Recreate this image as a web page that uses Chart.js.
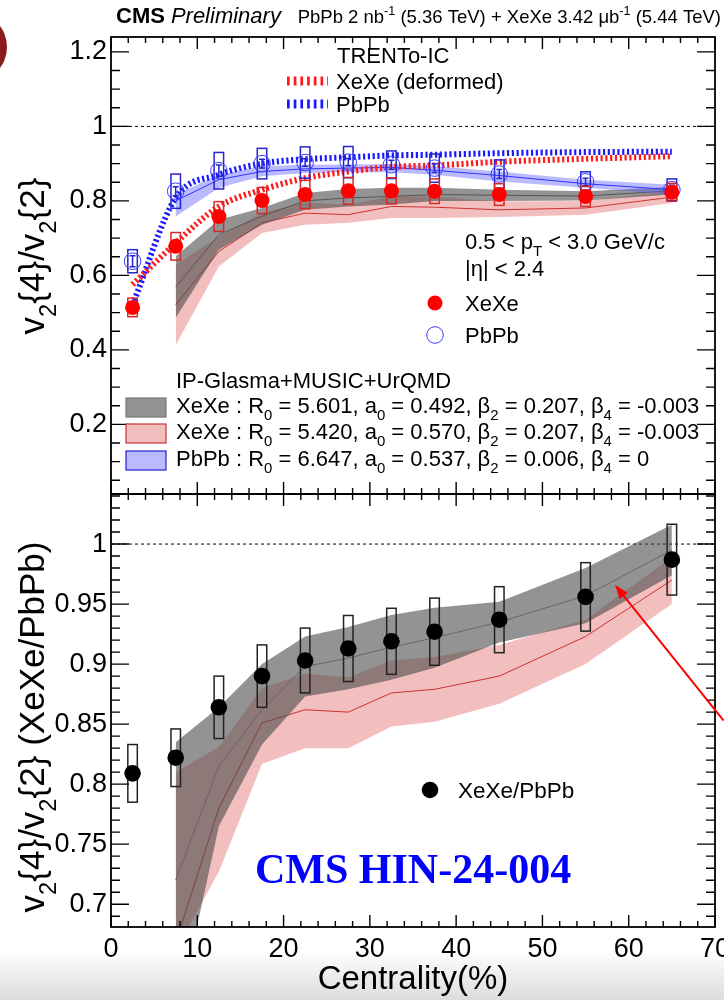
<!DOCTYPE html>
<html>
<head>
<meta charset="utf-8">
<script src="https://cdn.jsdelivr.net/npm/chart.js@4.4.1/dist/chart.umd.min.js"></script>
<style>
  html, body { margin: 0; padding: 0; }
  body { width: 724px; height: 1000px; position: relative; overflow: hidden;
         background: linear-gradient(to bottom, #fff 0px, #fff 950px, #dcdcdc 1000px); }
  canvas { position: absolute; left: 0; }
  #top { top: 0; }
  #bot { top: 490px; }
</style>
</head>
<body>
<canvas id="top" width="724" height="497"></canvas>
<canvas id="bot" width="724" height="510"></canvas>
<script>
// ---- data ----
const cent = [2.5, 7.5, 12.5, 17.5, 22.5, 27.5, 32.5, 37.5, 45, 55, 65];

// upper panel: v2{4}/v2{2}
const xexeV    = [0.514, 0.678, 0.758, 0.801, 0.817, 0.827, 0.827, 0.826, 0.817, 0.812, 0.823];
const xexeSys  = [0.025, 0.037, 0.040, 0.035, 0.038, 0.036, 0.035, 0.033, 0.029, 0.027, 0.024];
const pbpbV    = [0.638, 0.826, 0.881, 0.900, 0.903, 0.904, 0.897, 0.888, 0.872, 0.851, 0.830];
const pbpbSys  = [0.031, 0.046, 0.049, 0.041, 0.042, 0.042, 0.037, 0.038, 0.038, 0.027, 0.029];
const pbpbStat = [0.015, 0.012, 0.015, 0.012, 0.010, 0.010, 0.012, 0.012, 0.012, 0.010, 0.012];

// TRENTo-IC
const trentoXeXe = [0.575, 0.687, 0.785, 0.830, 0.861, 0.879, 0.891, 0.895, 0.905, 0.913, 0.920];
const trentoPbPb = [0.521, 0.808, 0.870, 0.900, 0.912, 0.917, 0.922, 0.924, 0.928, 0.931, 0.932];

// IP-Glasma+MUSIC+UrQMD bands
const modelCent = [7.5, 12.5, 17.5, 22.5, 27.5, 32.5, 37.5, 45, 55, 65];
const ipgXeA    = [0.569, 0.709, 0.759, 0.800, 0.808, 0.812, 0.817, 0.815, 0.813, 0.827];
const ipgXeAHi  = [0.651, 0.749, 0.781, 0.821, 0.832, 0.835, 0.835, 0.830, 0.826, 0.837];
const ipgXeALo  = [0.486, 0.669, 0.736, 0.776, 0.785, 0.790, 0.800, 0.800, 0.801, 0.817];
const ipgXeB    = [0.521, 0.664, 0.741, 0.767, 0.763, 0.785, 0.783, 0.776, 0.781, 0.810];
const ipgXeBHi  = [0.629, 0.704, 0.768, 0.795, 0.790, 0.812, 0.812, 0.798, 0.800, 0.826];
const ipgXeBLo  = [0.413, 0.624, 0.714, 0.736, 0.741, 0.754, 0.754, 0.757, 0.763, 0.794];
const ipgPb     = [0.800, 0.857, 0.879, 0.886, 0.888, 0.890, 0.882, 0.868, 0.846, 0.830];
const ipgPbHi   = [0.817, 0.870, 0.893, 0.897, 0.898, 0.899, 0.893, 0.879, 0.857, 0.843];
const ipgPbLo   = [0.758, 0.835, 0.866, 0.875, 0.877, 0.877, 0.870, 0.852, 0.835, 0.817];

// lower panel: XeXe/PbPb
const ratioV    = [0.809, 0.822, 0.864, 0.890, 0.903, 0.913, 0.919, 0.927, 0.937, 0.956, 0.987];
const ratioSys  = [0.024, 0.024, 0.026, 0.026, 0.027, 0.0275, 0.0275, 0.028, 0.0275, 0.0285, 0.0295];
const ratioStat = [0.005, 0.004, 0.004, 0.003, 0.003, 0.003, 0.003, 0.003, 0.003, 0.004, 0.005];
const rGray     = [0.720, 0.815, 0.862, 0.898, 0.905, 0.914, 0.922, 0.935, 0.957, 0.995];
const rGrayHi   = [0.835, 0.864, 0.900, 0.923, 0.931, 0.941, 0.947, 0.952, 0.980, 1.016];
const rGrayLo   = [0.600, 0.765, 0.833, 0.873, 0.879, 0.887, 0.897, 0.918, 0.934, 0.974];
const rPink     = [0.668, 0.780, 0.851, 0.862, 0.860, 0.876, 0.879, 0.890, 0.923, 0.970];
const rPinkHi   = [0.810, 0.831, 0.880, 0.892, 0.889, 0.903, 0.906, 0.916, 0.937, 0.989];
const rPinkLo   = [0.662, 0.727, 0.817, 0.830, 0.830, 0.848, 0.852, 0.867, 0.900, 0.950];

// axes
const xTicks = [0, 10, 20, 30, 40, 50, 60, 70];
const yTicksTop = [0.2, 0.4, 0.6, 0.8, 1, 1.2];
const yTicksBot = [0.7, 0.75, 0.8, 0.85, 0.9, 0.95, 1];

// legend text
const trentoHead = 'TRENTo-IC';
const trentoLabels = ['XeXe (deformed)', 'PbPb'];
const kinLabels = ['0.5 < p_{T} < 3.0 GeV/c', '|η| < 2.4'];
const dataLabels = ['XeXe', 'PbPb'];
const ipgHead = 'IP-Glasma+MUSIC+UrQMD';
const ipgLabels = [
  'XeXe : R_{0} = 5.601, a_{0} = 0.492, β_{2} = 0.207, β_{4} = -0.003',
  'XeXe : R_{0} = 5.420, a_{0} = 0.570, β_{2} = 0.207, β_{4} = -0.003',
  'PbPb : R_{0} = 6.647, a_{0} = 0.537, β_{2} = 0.006, β_{4} = 0'
];
const ratioLabel = 'XeXe/PbPb';
const tagText = 'CMS HIN-24-004';
const arrowFrom = { x: 71.0, y: 0.853 };
const arrowTo = { x: 58.4, y: 0.966 };

// ---- helpers ----
const FONT = "'Liberation Sans', Arial, sans-serif";
Chart.defaults.font.family = FONT;
Chart.defaults.color = '#000';

const GRAY = 'rgba(75,75,75,0.6)';
const PINK = 'rgba(220,70,70,0.35)';
const BLUE = 'rgba(90,90,255,0.42)';

function pts(xs, ys) { return xs.map((x, i) => ({ x: x, y: ys[i] })); }

function band(xs, hi, lo, color, ord) {
  return [
    { data: pts(xs, hi), borderColor: 'transparent', borderWidth: 0, pointRadius: 0, fill: '+1', backgroundColor: color, order: ord },
    { data: pts(xs, lo), borderColor: 'transparent', borderWidth: 0, pointRadius: 0, fill: false, order: ord }
  ];
}
function midLine(xs, ys, color, ord) {
  return { data: pts(xs, ys), borderColor: color, borderWidth: 1, pointRadius: 0, fill: false, order: ord };
}

// parse ROOT-like _{..} and ^{..}
function parse(s) {
  const out = []; const re = /([_^])\{([^}]*)\}/g; let last = 0, m;
  while ((m = re.exec(s))) {
    if (m.index > last) out.push([s.slice(last, m.index), '']);
    out.push([m[2], m[1] === '_' ? 'sub' : 'sup']);
    last = re.lastIndex;
  }
  if (last < s.length) out.push([s.slice(last), '']);
  return out;
}
function rich(ctx, s, x, y, size, align, style) {
  const parts = parse(s);
  const pre = style ? style + ' ' : '';
  const small = size * 0.68;
  const w = parts.map(([t, k]) => { ctx.font = pre + (k ? small : size) + 'px ' + FONT; return ctx.measureText(t).width; });
  const total = w.reduce((a, b) => a + b, 0);
  let cx = align === 'center' ? x - total / 2 : align === 'right' ? x - total : x;
  ctx.textAlign = 'left';
  ctx.textBaseline = 'alphabetic';
  parts.forEach(([t, k], i) => {
    ctx.font = pre + (k ? small : size) + 'px ' + FONT;
    const dy = k === 'sub' ? size * 0.33 : k === 'sup' ? -size * 0.42 : 0;
    ctx.fillText(t, cx, y + dy);
    cx += w[i];
  });
  return total;
}

function isMul(v, step) { const r = v / step; return Math.abs(r - Math.round(r)) < 1e-6; }

// keep the plot area exactly where the layout padding puts it
function fixY(s) { s.width = 111; s.paddingTop = 0; s.paddingBottom = 0; }
function fixX(s) { s.height = 73; s.paddingLeft = 0; s.paddingRight = 0; }

const framePlugin = {
  id: 'frame',
  beforeDatasetsDraw(chart, args, o) {
    const { ctx, chartArea: a } = chart;
    const py = chart.scales.y.getPixelForValue(1);
    ctx.save();
    ctx.strokeStyle = '#000'; ctx.lineWidth = 1; ctx.setLineDash([3, 3]);
    ctx.beginPath(); ctx.moveTo(a.left, py); ctx.lineTo(a.right, py); ctx.stroke();
    ctx.restore();
  },
  afterDraw(chart, args, o) {
    const { ctx, chartArea: a } = chart;
    const xs = chart.scales.x, ys = chart.scales.y;
    ctx.save();
    ctx.strokeStyle = '#000';
    ctx.lineWidth = 1.4;
    ctx.beginPath();
    for (let i = 0; i <= Math.round((xs.max - xs.min) / 2); i++) {
      const v = xs.min + i * 2;
      const p = xs.getPixelForValue(v);
      const len = isMul(v, 10) ? 12 : 6;
      ctx.moveTo(p, a.bottom); ctx.lineTo(p, a.bottom - len);
      ctx.moveTo(p, a.top); ctx.lineTo(p, a.top + len);
    }
    const n0 = Math.ceil(ys.min / o.yMinor - 1e-6);
    const n1 = Math.floor(ys.max / o.yMinor + 1e-6);
    for (let n = n0; n <= n1; n++) {
      const v = n * o.yMinor;
      const p = ys.getPixelForValue(v);
      const len = isMul(v, o.yMajor) ? 18 : 9;
      ctx.moveTo(a.left, p); ctx.lineTo(a.left + len, p);
      ctx.moveTo(a.right, p); ctx.lineTo(a.right - len, p);
    }
    ctx.stroke();
    ctx.lineWidth = 1.8;
    ctx.strokeRect(a.left, a.top, a.right - a.left, a.bottom - a.top);
    ctx.restore();
  }
};

// systematic boxes + stat bars, drawn just before the marker dataset given by o.beforeIndex
const boxPlugin = {
  id: 'boxes',
  beforeDatasetDraw(chart, args, o) {
    if (args.index !== o.beforeIndex) return;
    const { ctx, chartArea: a } = chart;
    const xs = chart.scales.x, ys = chart.scales.y;
    ctx.save();
    ctx.beginPath(); ctx.rect(a.left, a.top, a.right - a.left, a.bottom - a.top); ctx.clip();
    o.sets.forEach(s => {
      ctx.strokeStyle = s.color; ctx.lineWidth = 1.5;
      s.xs.forEach((x, i) => {
        const x0 = xs.getPixelForValue(x - 0.55), x1 = xs.getPixelForValue(x + 0.55);
        const y0 = ys.getPixelForValue(s.ys[i] + s.sys[i]), y1 = ys.getPixelForValue(s.ys[i] - s.sys[i]);
        ctx.strokeRect(x0, y0, x1 - x0, y1 - y0);
        if (s.stat) {
          const px = xs.getPixelForValue(x);
          const t = ys.getPixelForValue(s.ys[i] + s.stat[i]), b = ys.getPixelForValue(s.ys[i] - s.stat[i]);
          ctx.beginPath();
          ctx.moveTo(px, t); ctx.lineTo(px, b);
          ctx.moveTo(px - 3, t); ctx.lineTo(px + 3, t);
          ctx.moveTo(px - 3, b); ctx.lineTo(px + 3, b);
          ctx.stroke();
        }
      });
    });
    ctx.restore();
  }
};

const topDecor = {
  id: 'topDecor',
  afterDraw(chart) {
    const ctx = chart.ctx;
    ctx.save();
    // corner logo
    ctx.fillStyle = '#8a1c1c';
    ctx.beginPath(); ctx.arc(-28, 47, 35, 0, Math.PI * 2); ctx.fill();
    // header
    ctx.fillStyle = '#000';
    ctx.textBaseline = 'alphabetic'; ctx.textAlign = 'left';
    ctx.font = 'bold 22px ' + FONT;
    ctx.fillText('CMS', 116, 23);
    const wc = ctx.measureText('CMS').width;
    ctx.font = 'italic 22px ' + FONT;
    ctx.fillText('Preliminary', 116 + wc + 6, 23);
    rich(ctx, 'PbPb 2 nb^{-1} (5.36 TeV) + XeXe 3.42 μb^{-1} (5.44 TeV)', 721, 23, 18.5, 'right');
    // y title
    ctx.save();
    ctx.translate(44, 256); ctx.rotate(-Math.PI / 2);
    rich(ctx, 'v_{2}{4}/v_{2}{2}', 0, 0, 35, 'center');
    ctx.restore();
    // TRENTo legend
    rich(ctx, trentoHead, 337, 63, 22, 'left');
    [['#ff1a1a', 81], ['#1a1aff', 104]].forEach(([c, y], i) => {
      ctx.save();
      ctx.strokeStyle = c; ctx.lineWidth = 9; ctx.setLineDash([2.7, 4]);
      ctx.beginPath(); ctx.moveTo(287, y); ctx.lineTo(328, y); ctx.stroke();
      ctx.restore();
      rich(ctx, trentoLabels[i], 336, y + 8, 22, 'left');
    });
    // kinematics + data legend
    rich(ctx, kinLabels[0], 465, 249, 22, 'left');
    rich(ctx, kinLabels[1], 465, 276, 22, 'left');
    ctx.fillStyle = '#ff0000';
    ctx.beginPath(); ctx.arc(435, 303, 7.5, 0, Math.PI * 2); ctx.fill();
    ctx.strokeStyle = '#3a3aff'; ctx.lineWidth = 1;
    ctx.beginPath(); ctx.arc(435, 335, 8.3, 0, Math.PI * 2); ctx.stroke();
    ctx.fillStyle = '#000';
    rich(ctx, dataLabels[0], 465, 311, 22, 'left');
    rich(ctx, dataLabels[1], 465, 343, 22, 'left');
    // IP-Glasma legend
    rich(ctx, ipgHead, 176, 388, 22, 'left');
    const boxStyles = [[GRAY, '#777'], [PINK, '#c83232'], [BLUE, '#2020c8']];
    [398, 424, 451].forEach((y, i) => {
      ctx.fillStyle = '#fff'; ctx.fillRect(126, y, 40, 19);
      ctx.fillStyle = boxStyles[i][0]; ctx.fillRect(126, y, 40, 19);
      ctx.strokeStyle = boxStyles[i][1]; ctx.lineWidth = 1.2; ctx.strokeRect(126, y, 40, 19);
      ctx.fillStyle = '#000';
      rich(ctx, ipgLabels[i], 176, y + 15, 22, 'left');
    });
    ctx.restore();
  }
};

const botDecor = {
  id: 'botDecor',
  afterDraw(chart) {
    const ctx = chart.ctx;
    const xs = chart.scales.x, ys = chart.scales.y;
    ctx.save();
    ctx.fillStyle = '#000';
    ctx.save();
    ctx.translate(44, 237); ctx.rotate(-Math.PI / 2);
    rich(ctx, 'v_{2}{4}/v_{2}{2} (XeXe/PbPb)', 0, 0, 35, 'center');
    ctx.restore();
    // data legend
    ctx.beginPath(); ctx.arc(430, 300, 8.3, 0, Math.PI * 2); ctx.fill();
    rich(ctx, ratioLabel, 458, 308, 22.5, 'left');
    // tag
    ctx.fillStyle = '#0000ff';
    ctx.font = "bold 42px 'Liberation Serif', 'Times New Roman', serif";
    ctx.textAlign = 'left'; ctx.textBaseline = 'alphabetic';
    ctx.fillText(tagText, 255, 393);
    // arrow
    const x0 = xs.getPixelForValue(arrowFrom.x), y0 = ys.getPixelForValue(arrowFrom.y);
    const x1 = xs.getPixelForValue(arrowTo.x), y1 = ys.getPixelForValue(arrowTo.y);
    const ang = Math.atan2(y1 - y0, x1 - x0);
    ctx.strokeStyle = '#ff0000'; ctx.fillStyle = '#ff0000'; ctx.lineWidth = 2;
    ctx.beginPath(); ctx.moveTo(x0, y0); ctx.lineTo(x1 - 10 * Math.cos(ang), y1 - 10 * Math.sin(ang)); ctx.stroke();
    ctx.beginPath();
    ctx.moveTo(x1, y1);
    ctx.lineTo(x1 - 14 * Math.cos(ang) + 5 * Math.sin(ang), y1 - 14 * Math.sin(ang) - 5 * Math.cos(ang));
    ctx.lineTo(x1 - 14 * Math.cos(ang) - 5 * Math.sin(ang), y1 - 14 * Math.sin(ang) + 5 * Math.cos(ang));
    ctx.closePath(); ctx.fill();
    ctx.restore();
  }
};

const fmt = v => String(Math.round(v * 100) / 100);

// ---- upper chart ----
const topSets = [
  { data: pts(cent, xexeV), showLine: false, pointRadius: 7.5, pointBackgroundColor: '#ff0000', pointBorderColor: '#ff0000', pointBorderWidth: 0, order: 0 },
  { data: pts(cent, pbpbV), showLine: false, pointRadius: 8.3, pointBackgroundColor: 'rgba(0,0,0,0)', pointBorderColor: '#3a3aff', pointBorderWidth: 1, order: 1 },
  { data: pts(cent, trentoXeXe), borderColor: '#ff1a1a', borderWidth: 6, borderDash: [2.2, 2.6], pointRadius: 0, fill: false, cubicInterpolationMode: 'monotone', order: 3 },
  { data: pts(cent, trentoPbPb), borderColor: '#1a1aff', borderWidth: 6, borderDash: [2.2, 2.6], pointRadius: 0, fill: false, cubicInterpolationMode: 'monotone', order: 4 },
  midLine(modelCent, ipgPb, '#3030ff', 5),
  ...band(modelCent, ipgPbHi, ipgPbLo, BLUE, 6),
  midLine(modelCent, ipgXeA, '#555555', 7),
  ...band(modelCent, ipgXeAHi, ipgXeALo, GRAY, 8),
  midLine(modelCent, ipgXeB, '#d03030', 9),
  ...band(modelCent, ipgXeBHi, ipgXeBLo, PINK, 10)
];

new Chart(document.getElementById('top'), {
  type: 'line',
  data: { datasets: topSets },
  options: {
    responsive: false, animation: false, events: [],
    layout: { padding: { left: 0, right: 9, top: 37, bottom: 3 }, autoPadding: false },
    plugins: {
      legend: { display: false }, tooltip: { enabled: false },
      frame: { yMajor: 0.2, yMinor: 0.05 },
      boxes: { beforeIndex: 1, sets: [
        { xs: cent, ys: pbpbV, sys: pbpbSys, stat: pbpbStat, color: '#2424d0' },
        { xs: cent, ys: xexeV, sys: xexeSys, color: '#d42a2a' }
      ] }
    },
    scales: {
      x: { type: 'linear', min: 0, max: 70, display: false },
      y: {
        type: 'linear', min: 0.013, max: 1.24,
        afterBuildTicks: s => { s.ticks = yTicksTop.map(v => ({ value: v })); },
        afterFit: fixY,
        grid: { display: false, drawTicks: false }, border: { display: false },
        ticks: { padding: 4, font: { size: 27 }, color: '#000', callback: fmt }
      }
    }
  },
  plugins: [framePlugin, boxPlugin, topDecor]
});

// ---- lower chart ----
const botSets = [
  { data: pts(cent, ratioV), showLine: false, pointRadius: 8.3, pointBackgroundColor: '#000', pointBorderColor: '#000', pointBorderWidth: 0, order: 0 },
  midLine(modelCent, rGray, '#666666', 2),
  ...band(modelCent, rGrayHi, rGrayLo, GRAY, 3),
  midLine(modelCent, rPink, '#d03030', 4),
  ...band(modelCent, rPinkHi, rPinkLo, PINK, 5)
];

new Chart(document.getElementById('bot'), {
  type: 'line',
  data: { datasets: botSets },
  options: {
    responsive: false, animation: false, events: [],
    layout: { padding: { left: 0, right: 9, top: 4, bottom: 0 }, autoPadding: false },
    plugins: {
      legend: { display: false }, tooltip: { enabled: false },
      frame: { yMajor: 0.05, yMinor: 0.01 },
      boxes: { beforeIndex: 0, sets: [
        { xs: cent, ys: ratioV, sys: ratioSys, stat: ratioStat, color: '#222222' }
      ] }
    },
    scales: {
      x: {
        type: 'linear', min: 0, max: 70,
        afterBuildTicks: s => { s.ticks = xTicks.map(v => ({ value: v })); },
        afterFit: fixX,
        grid: { display: false, drawTicks: false }, border: { display: false },
        ticks: { padding: 6, font: { size: 27 }, color: '#000', maxRotation: 0, autoSkip: false, callback: fmt },
        title: { display: true, text: 'Centrality(%)', font: { size: 33 }, color: '#000', padding: { top: 0, bottom: 0 } }
      },
      y: {
        type: 'linear', min: 0.681, max: 1.0417,
        afterBuildTicks: s => { s.ticks = yTicksBot.map(v => ({ value: v })); },
        afterFit: fixY,
        grid: { display: false, drawTicks: false }, border: { display: false },
        ticks: { padding: 4, font: { size: 27 }, color: '#000', callback: fmt }
      }
    }
  },
  plugins: [framePlugin, boxPlugin, botDecor]
});
</script>
</body>
</html>
